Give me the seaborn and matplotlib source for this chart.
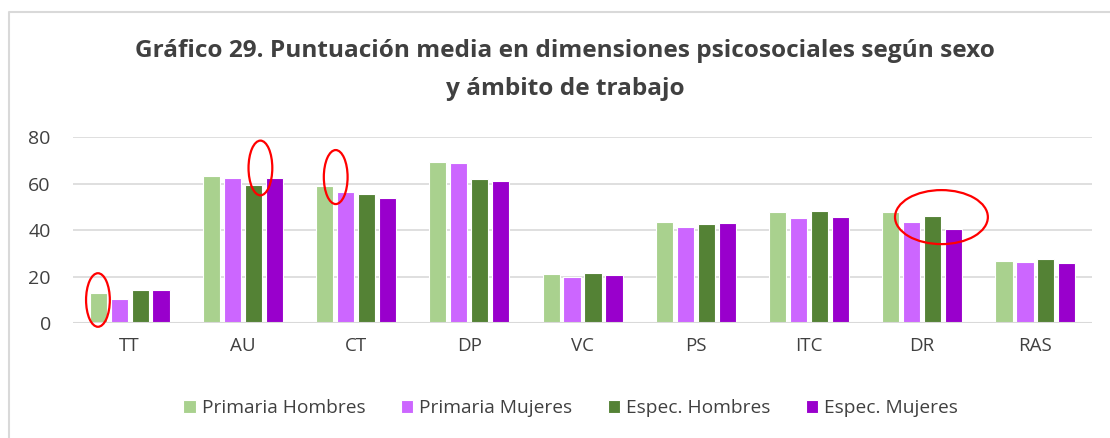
import matplotlib.pyplot as plt
import seaborn as sns
import pandas as pd
from matplotlib.patches import Ellipse
from matplotlib.lines import Line2D

dimensiones = ['TT', 'AU', 'CT', 'DP', 'VC', 'PS', 'ITC', 'DR', 'RAS']
primaria_hombres = [12.9, 63.1, 59.1, 69.1, 21.1, 43.3, 47.7, 47.9, 26.8]
primaria_mujeres = [10.3, 62.4, 56.5, 68.9, 19.9, 41.4, 45.3, 43.3, 26.4]
espec_hombres = [14.3, 59.2, 55.6, 61.8, 21.6, 42.8, 48.4, 46.0, 27.8]
espec_mujeres = [14.3, 62.5, 53.9, 61.2, 20.6, 43.1, 45.7, 40.6, 25.8]
series = ['Primaria Hombres', 'Primaria Mujeres', 'Espec. Hombres', 'Espec. Mujeres']

frames = []
for name, vals in zip(series, [primaria_hombres, primaria_mujeres, espec_hombres, espec_mujeres]):
    frames.append(pd.DataFrame({'dim': dimensiones, 'grupo': name, 'valor': vals}))
df = pd.concat(frames, ignore_index=True)

sns.set_theme(style="white")
plt.rcParams['font.family'] = ['Open Sans', 'DejaVu Sans']

palette = {'Primaria Hombres': '#A9D18E', 'Primaria Mujeres': '#CC66FF',
           'Espec. Hombres': '#548235', 'Espec. Mujeres': '#9900CC'}

fig = plt.figure(figsize=(11.1, 4.38), dpi=100)
ax = fig.add_axes([0.0658, 0.2619, 0.9180, 0.4253])

sns.barplot(data=df, x='dim', y='valor', hue='grupo', palette=palette,
            width=0.74, gap=0.18, edgecolor='white', linewidth=0.8,
            saturation=1, ax=ax, zorder=3)

ax.set_ylim(0, 80)
ax.set_xlim(-0.5, len(dimensiones) - 0.5)
ax.set_yticks([0, 20, 40, 60, 80])
ax.yaxis.grid(True, color='#D9D9D9', linewidth=1.2, zorder=0)
ax.set_axisbelow(True)
for s in ax.spines.values():
    s.set_visible(False)
ax.axhline(0, color='#D9D9D9', linewidth=1.5, zorder=4)
ax.set_xlabel('')
ax.set_ylabel('')
ax.tick_params(axis='y', labelsize=14, labelcolor='#404040', pad=16, length=0)
ax.tick_params(axis='x', labelsize=13.5, labelcolor='#404040', pad=10, length=0)

# red ellipses highlighting selected bars
marks = [(0 - 0.28, 10, 0.21, 23), (1 + 0.155, 66.7, 0.21, 23.5),
         (2 - 0.18, 62.8, 0.21, 23.2), (7 + 0.17, 45.6, 0.82, 23.2)]
for cx, cy, w, h in marks:
    ax.add_patch(Ellipse((cx, cy), w, h, fill=False, edgecolor='#FF0000',
                         linewidth=1.6, zorder=6, clip_on=False))

ax.legend(loc='center', bbox_to_anchor=(0.514, 0.068), bbox_transform=fig.transFigure,
          ncol=4, frameon=False, fontsize=13.8, handlelength=0.65, handleheight=0.65,
          handletextpad=0.3, columnspacing=1.85, labelcolor='#404040')

fig.text(0.509, 0.884, 'Gráfico 29. Puntuación media en dimensiones psicosociales según sexo',
         ha='center', va='center', fontsize=17.6, fontweight='bold', color='#404040')
fig.text(0.509, 0.797, 'y ámbito de trabajo',
         ha='center', va='center', fontsize=17.6, fontweight='bold', color='#404040')

fig.add_artist(Line2D([0.0077, 0.0077, 1.0], [0.0, 0.972, 0.972],
                      transform=fig.transFigure, color='#D9D9D9', linewidth=1.5))

fig.savefig('out.png', dpi=100)
